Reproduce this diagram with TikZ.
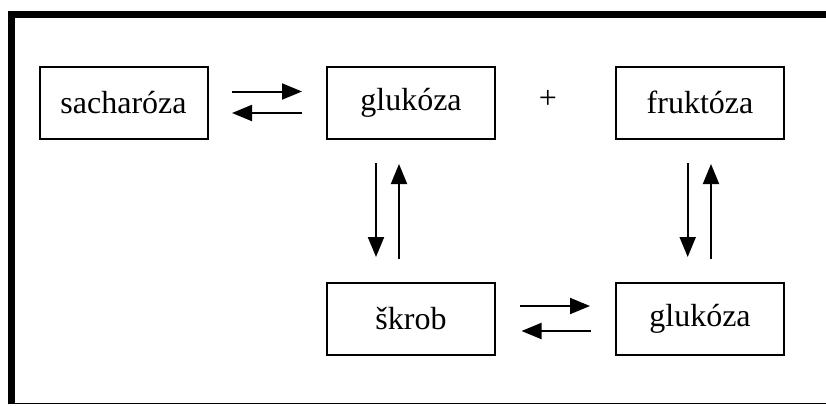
\documentclass[tikz,border=0pt]{standalone}
\usepackage{fontspec}
\setmainfont{Liberation Serif}
\usetikzlibrary{arrows.meta,calc}

\tikzset{
  sugar/.style={draw, line width=2pt, minimum width=168pt, minimum height=72pt,
    inner sep=0pt, font=\fontsize{32}{36}\selectfont},
  arr/.style={line width=2pt, -{Triangle[length=20pt,width=16pt]}},
}

\begin{document}
\begin{tikzpicture}[x=1pt,y=-1pt]
  \useasboundingbox (0,0) rectangle (826,405);

  % outer frame
  \fill (7.5,11) rectangle (826,18.3);
  \fill (7.5,11) rectangle (15,404.3);
  \fill (15,402.7) rectangle (826,404.3);

  % compounds
  \node[sugar] (sach)  at (123.5,102.5) {sacharóza};
  \node[sugar] (gluk1) at (411,102.5)   {glukóza};
  \node[sugar] (fruk)  at (700,102.5)   {fruktóza};
  \node[sugar] (skrob) at (411,318.5)   {škrob};
  \node[sugar] (gluk2) at (700,318.5)   {glukóza};
  \node[font=\fontsize{32}{36}\selectfont] (plus) at (548,99) {+};

  % sacharóza <-> glukóza
  \draw[arr] ($(sach.east)+(23.5,-11)$) -- ($(gluk1.west)+(-24,-11)$);
  \draw[arr] ($(gluk1.west)+(-24,10.5)$) -- ($(sach.east)+(23.5,10.5)$);

  % glukóza <-> škrob
  \draw[arr] ($(gluk1.south)+(-35,23.5)$) -- ($(skrob.north)+(-35,-24.5)$);
  \draw[arr] ($(skrob.north)+(-12,-22.5)$) -- ($(gluk1.south)+(-12,24.5)$);

  % fruktóza <-> glukóza
  \draw[arr] ($(fruk.south)+(-12.3,23.5)$) -- ($(gluk2.north)+(-12.3,-24.5)$);
  \draw[arr] ($(gluk2.north)+(11,-22.5)$) -- ($(fruk.south)+(11,24.5)$);

  % škrob <-> glukóza
  \draw[arr] ($(skrob.east)+(24,-12.5)$) -- ($(gluk2.west)+(-25,-12.5)$);
  \draw[arr] ($(gluk2.west)+(-24,12.5)$) -- ($(skrob.east)+(25.5,12.5)$);
\end{tikzpicture}
\end{document}
